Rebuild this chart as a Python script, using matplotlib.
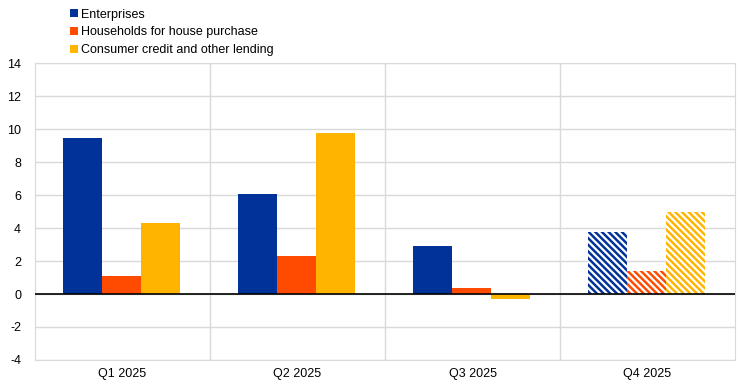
import numpy as np
import matplotlib.pyplot as plt
from matplotlib.patches import Patch

plt.rcParams['font.family'] = ['Liberation Sans', 'DejaVu Sans']
plt.rcParams['axes.unicode_minus'] = False
plt.rcParams['hatch.linewidth'] = 1.6

# data
quarters = ['Q1 2025', 'Q2 2025', 'Q3 2025', 'Q4 2025']
series_names = ['Enterprises', 'Households for house purchase',
                'Consumer credit and other lending']
enterprises = [9.45, 6.06, 2.9, 3.76]
households = [1.09, 2.3, 0.36, 1.4]
consumer = [4.3, 9.76, -0.3, 4.97]
colors = ['#003299', '#FF4B00', '#FFB400']
expected = [False, False, False, True]  # last quarter is hatched

fig = plt.figure(figsize=(7.44, 3.85), dpi=100)
ax = fig.add_axes([0.047, 0.065, 0.941, 0.771])

x = np.arange(len(quarters))
width = 0.223
for i, (vals, col) in enumerate(zip([enterprises, households, consumer], colors)):
    pos = x + (i - 1) * width - 0.008
    for p, v, hatched in zip(pos, vals, expected):
        if hatched:
            ax.bar(p, v, width, color=col, edgecolor='white', hatch='\\\\\\\\\\',
                   linewidth=0, zorder=3)
        else:
            ax.bar(p, v, width, color=col, linewidth=0, zorder=3)

ax.axhline(0, color='black', linewidth=1.2, zorder=4)

ax.set_xlim(-0.5, len(quarters) - 0.5)
ax.set_ylim(-4, 14)
ax.set_yticks(np.arange(-4, 15, 2))
ax.set_xticks(x)
ax.set_xticklabels(quarters)
ax.set_xticks(np.arange(0.5, len(quarters) - 0.5, 1), minor=True)
ax.tick_params(axis='both', which='both', length=0, labelsize=9, pad=6)
ax.tick_params(axis='y', pad=10)
ax.grid(axis='y', which='major', color='#d9d9d9', linewidth=1, zorder=0)
ax.grid(axis='x', which='minor', color='#d9d9d9', linewidth=1, zorder=0)
for s in ax.spines.values():
    s.set_color('#d9d9d9')

handles = [Patch(facecolor=c, label=n) for c, n in zip(colors, series_names)]
fig.legend(handles=handles, loc='upper left', bbox_to_anchor=(0.088, 0.99),
           frameon=False, fontsize=9, handlelength=0.6, handleheight=0.6,
           handletextpad=0.25, labelspacing=0.45, borderaxespad=0)

fig.savefig('out.png', dpi=100)
